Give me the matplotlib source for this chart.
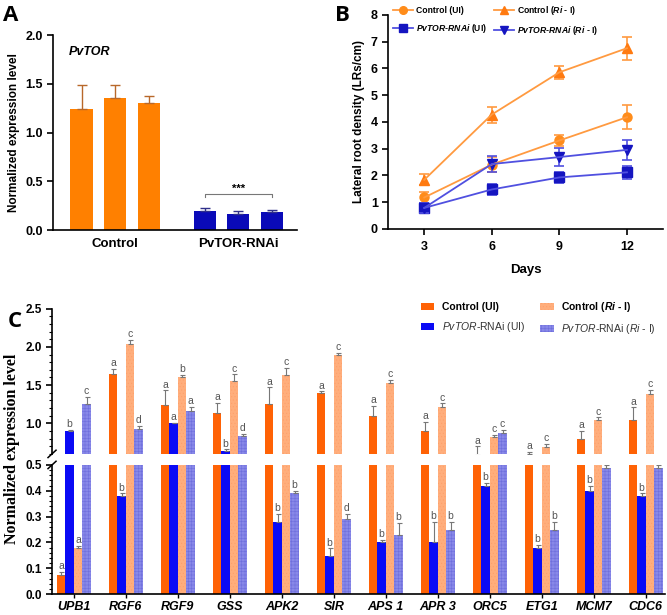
import matplotlib
matplotlib.use('Agg')
import matplotlib.pyplot as plt
from matplotlib.lines import Line2D
from matplotlib.patches import Patch
from matplotlib.ticker import MultipleLocator
import numpy as np

plt.rcParams['font.family'] = ['Liberation Sans', 'DejaVu Sans']
plt.rcParams['mathtext.fontset'] = 'custom'
plt.rcParams['mathtext.rm'] = 'Liberation Sans'
plt.rcParams['mathtext.it'] = 'Liberation Sans:italic'
plt.rcParams['mathtext.bf'] = 'Liberation Sans:bold'
plt.rcParams['mathtext.bfit'] = 'Liberation Sans:italic:bold'

# Panel A - PvTOR expression (3 control lines, 3 RNAi lines)
a_groups = ['Control', 'PvTOR-RNAi']
a_values = [1.24, 1.35, 1.30, 0.20, 0.16, 0.18]
a_errors = [0.25, 0.14, 0.07, 0.03, 0.035, 0.025]

# Panel B - lateral root density
days = [3, 6, 9, 12]
ctrl_ui = [1.17, 2.40, 3.30, 4.17]
ctrl_ui_err = [0.20, 0.28, 0.22, 0.44]
ctrl_ri = [1.83, 4.27, 5.85, 6.75]
ctrl_ri_err = [0.20, 0.30, 0.24, 0.43]
rnai_ui = [0.78, 1.47, 1.92, 2.11]
rnai_ui_err = [0.20, 0.20, 0.20, 0.25]
rnai_ri = [0.78, 2.42, 2.68, 2.95]
rnai_ri_err = [0.20, 0.30, 0.35, 0.37]

# Panel C - gene expression, broken axis
genes = ['UPB1', 'RGF6', 'RGF9', 'GSS', 'APK2', 'SIR',
         'APS 1', 'APR 3', 'ORC5', 'ETG1', 'MCM7', 'CDC6']
c_ctrl_ui = [0.074, 1.64, 1.24, 1.14, 1.25, 1.40, 1.09, 0.90, 0.58, 0.60, 0.80, 1.04]
c_ctrl_ui_err = [0.012, 0.07, 0.19, 0.13, 0.22, 0.02, 0.14, 0.12, 0.12, 0.03, 0.10, 0.17]
c_rnai_ui = [0.90, 0.38, 1.00, 0.64, 0.28, 0.147, 0.20, 0.20, 0.42, 0.18, 0.40, 0.38]
c_rnai_ui_err = [0.01, 0.01, 0.01, 0.02, 0.03, 0.03, 0.01, 0.08, 0.01, 0.01, 0.02, 0.01]
c_ctrl_ri = [0.178, 2.04, 1.60, 1.55, 1.63, 1.90, 1.53, 1.22, 0.82, 0.69, 1.04, 1.38]
c_ctrl_ri_err = [0.01, 0.05, 0.03, 0.09, 0.10, 0.02, 0.04, 0.04, 0.03, 0.04, 0.04, 0.06]
c_rnai_ri = [1.25, 0.92, 1.16, 0.83, 0.39, 0.29, 0.23, 0.25, 0.87, 0.25, 0.49, 0.49]
c_rnai_ri_err = [0.10, 0.05, 0.06, 0.03, 0.01, 0.02, 0.045, 0.03, 0.04, 0.03, 0.01, 0.01]
c_letters = [
    ['a', 'b', 'a', 'c'], ['a', 'b', 'c', 'd'], ['a', 'a', 'b', 'a'],
    ['a', 'b', 'c', 'd'], ['a', 'b', 'c', 'b'], ['a', 'b', 'c', 'd'],
    ['a', 'b', 'c', 'b'], ['a', 'b', 'c', 'b'], ['a', 'b', 'c', 'c'],
    ['a', 'b', 'c', 'b'], ['a', 'b', 'c', 'd'], ['a', 'b', 'c', 'd'],
]

ORANGE_A = '#FF8000'
NAVY_A = '#0A0AB8'


def style_axis(ax, lw=1.2):
    for side in ['top', 'right']:
        ax.spines[side].set_visible(False)
    for side in ['left', 'bottom']:
        ax.spines[side].set_linewidth(lw)
    ax.tick_params(width=lw, length=4, labelsize=9)
    for lab in ax.get_yticklabels() + ax.get_xticklabels():
        lab.set_fontweight('bold')


def panel_a(fig):
    ax = fig.add_axes([0.0795, 0.626, 0.366, 0.317])
    x = np.array([0, 1, 2, 3.67, 4.67, 5.67])
    colors = [ORANGE_A] * 3 + [NAVY_A] * 3
    ecolors = ['#B8682A'] * 3 + ['#30308A'] * 3
    ax.bar(x, a_values, width=0.66, color=colors)
    for xi, v, e, ec in zip(x, a_values, a_errors, ecolors):
        ax.errorbar(xi, v, yerr=[[0], [e]], fmt='none', ecolor=ec,
                    elinewidth=1, capsize=3.5, capthick=1)
    ax.set_xlim(-0.85, 6.43)
    ax.set_ylim(0, 2.0)
    ax.set_yticks([0, 0.5, 1.0, 1.5, 2.0])
    ax.set_xticks([1, 4.67])
    ax.set_xticklabels(a_groups)
    ax.set_ylabel('Normalized expression level', fontsize=8.5, fontweight='bold')
    style_axis(ax)
    ax.tick_params(axis='x', length=0, pad=6, labelsize=9.5)
    ax.text(-0.37, 1.83, 'PvTOR', fontsize=9, fontweight='bold', style='italic',
            va='center')
    # significance bracket
    ax.plot([3.67, 3.67, 5.67, 5.67], [0.34, 0.37, 0.37, 0.34], color='#777777', lw=0.8)
    ax.text(4.67, 0.37, '***', ha='center', va='bottom', fontsize=8, fontweight='bold')


def panel_b(fig):
    ax = fig.add_axes([0.582, 0.628, 0.412, 0.348])
    orange_line = '#FF9A40'
    blue_line = '#5050E0'
    series = [
        (ctrl_ui, ctrl_ui_err, 'o', '#FF8C1A', orange_line, 'Control (UI)'),
        (ctrl_ri, ctrl_ri_err, '^', '#FF7A10', orange_line, r'Control ($\mathbfit{Ri}$ - I)'),
        (rnai_ui, rnai_ui_err, 's', '#1515C0', blue_line, r'$\mathbfit{PvTOR}$-$\mathbfit{RNAi}$ (UI)'),
        (rnai_ri, rnai_ri_err, 'v', '#1515C0', blue_line, r'$\mathbfit{PvTOR}$-$\mathbfit{RNAi}$ ($\mathbfit{Ri}$ - I)'),
    ]
    handles = []
    for vals, errs, mk, mc, lc, label in series:
        ax.errorbar(days, vals, yerr=errs, fmt='-', color=lc, lw=1.3,
                    elinewidth=1.2, capsize=3.5, capthick=1.2)
        ax.plot(days, vals, linestyle='none', marker=mk, color=mc, markersize=6.5)
        handles.append(Line2D([], [], color=lc, lw=1.3, marker=mk,
                              markerfacecolor=mc, markeredgecolor=mc,
                              markersize=5.5, label=label))
    ax.set_xlim(1.4, 13.6)
    ax.set_ylim(0, 8)
    ax.set_xticks(days)
    ax.set_yticks(range(0, 9))
    ax.set_xlabel('Days', fontsize=9.5, fontweight='bold', labelpad=8)
    ax.set_ylabel('Lateral root density (LRs/cm)', fontsize=8.5, fontweight='bold')
    style_axis(ax)
    ax.tick_params(axis='x', pad=5)
    fig.legend(handles=[handles[0], handles[2], handles[1], handles[3]], ncol=2,
               loc='upper left', bbox_to_anchor=(0.578, 1.006), frameon=False,
               prop={'weight': 'bold', 'size': 6.2}, handlelength=2.3,
               columnspacing=0.8, labelspacing=0.75, handletextpad=0.35)


def panel_c(fig):
    ax_up = fig.add_axes([0.078, 0.262, 0.919, 0.236])
    ax_lo = fig.add_axes([0.078, 0.034, 0.919, 0.210])
    x = np.arange(len(genes))
    w = 0.163
    specs = [
        (c_ctrl_ui, c_ctrl_ui_err, '#FF6205', None, None),
        (c_rnai_ui, c_rnai_ui_err, '#0A0AF5', None, None),
        (c_ctrl_ri, c_ctrl_ri_err, '#FFAE7C', '#FFA06A', '.....'),
        (c_rnai_ri, c_rnai_ri_err, '#8888E8', '#6E6EDC', '+++++'),
    ]
    offsets = [-1.5, -0.5, 0.5, 1.5]
    plt.rcParams['hatch.linewidth'] = 0.4
    for k, (vals, errs, color, hc, hatch) in enumerate(specs):
        xs = x + offsets[k] * w
        for ax in (ax_up, ax_lo):
            ax.bar(xs, vals, width=w, color=color, edgecolor=hc if hc else color,
                   linewidth=0, hatch=hatch)
            ax.errorbar(xs, vals, yerr=[np.zeros(len(vals)), errs], fmt='none',
                        ecolor='#777777', elinewidth=0.8, capsize=1.8, capthick=0.8)
        for i, xi in enumerate(xs):
            top = vals[i] + errs[i]
            ax = ax_lo if top < 0.5 else ax_up
            ax.annotate(c_letters[i][k], (xi, top), xytext=(0, 0.5),
                        textcoords='offset points', ha='center', va='bottom',
                        fontsize=7.5, color='#555555')

    for ax in (ax_up, ax_lo):
        ax.set_xlim(-0.42, 11.37)
        for side in ['top', 'right']:
            ax.spines[side].set_visible(False)
        ax.spines['left'].set_linewidth(1.2)
        ax.tick_params(axis='y', width=1.2, length=4, labelsize=8.5)
        ax.tick_params(axis='y', which='minor', width=0.8, length=2)

    ax_up.set_ylim(0.6, 2.5)
    ax_up.set_yticks([1.0, 1.5, 2.0, 2.5])
    ax_up.yaxis.set_minor_locator(MultipleLocator(0.1))
    ax_up.spines['bottom'].set_visible(False)
    ax_up.set_xticks([])

    ax_lo.set_ylim(0, 0.5)
    ax_lo.set_yticks([0, 0.1, 0.2, 0.3, 0.4, 0.5])
    ax_lo.yaxis.set_minor_locator(MultipleLocator(0.02))
    ax_lo.spines['bottom'].set_linewidth(1.2)
    ax_lo.set_xticks(x)
    ax_lo.set_xticklabels(genes, fontsize=9, fontweight='bold', style='italic')
    ax_lo.tick_params(axis='x', width=1.0, length=3, pad=2)

    for ax in (ax_up, ax_lo):
        for lab in ax.get_yticklabels():
            lab.set_fontweight('bold')

    # break marks on the y axis
    x0 = 0.078
    for yb in (0.262, 0.244):
        fig.add_artist(Line2D([x0 - 0.006, x0 + 0.006], [yb - 0.006, yb + 0.006],
                              color='black', lw=1.1))

    fig.text(0.018, 0.27, 'Normalized expression level', rotation=90,
             ha='center', va='center', fontsize=11.5, fontweight='bold',
             family='Liberation Serif')

    handles = [
        Patch(facecolor='#FF6205', label='Control (UI)'),
        Patch(facecolor='#0A0AF5', label=r'$\mathit{PvTOR}$-RNAi (UI)'),
        Patch(facecolor='#FFAE7C', edgecolor='#FFA06A', linewidth=0, hatch='.....',
              label=r'Control ($\mathbfit{Ri}$ - I)'),
        Patch(facecolor='#8888E8', edgecolor='#6E6EDC', linewidth=0, hatch='+++++',
              label=r'$\mathit{PvTOR}$-RNAi ($\mathit{Ri}$ - I)'),
    ]
    leg = fig.legend(handles=handles, ncol=2, loc='upper left',
                     bbox_to_anchor=(0.617, 0.527), frameon=False, fontsize=7.5,
                     handlelength=1.3, handleheight=0.6, columnspacing=1.4,
                     labelspacing=0.75, handletextpad=0.75)
    texts = leg.get_texts()
    texts[0].set_fontweight('bold')
    texts[2].set_fontweight('bold')
    texts[1].set_color('#333333')
    texts[3].set_color('#333333')


def main():
    fig = plt.figure(figsize=(6.67, 6.15), dpi=100, facecolor='white')
    panel_a(fig)
    panel_b(fig)
    panel_c(fig)

    label_font = dict(fontsize=16, fontweight='bold', family=['Open Sans', 'Liberation Sans'])
    fig.text(0.005, 0.975, 'A', va='center', **label_font)
    fig.text(0.502, 0.975, 'B', va='center', **label_font)
    fig.text(0.012, 0.478, 'C', va='center', **label_font)

    fig.savefig('out.png', dpi=100, facecolor='white')


if __name__ == '__main__':
    main()
